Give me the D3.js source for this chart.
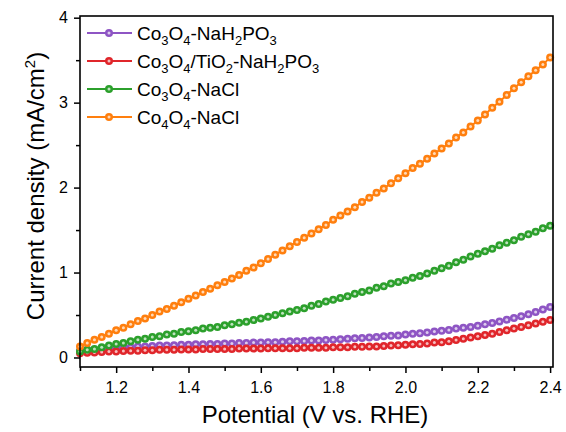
<!DOCTYPE html>
<html>
<head>
<meta charset="utf-8">
<script src="https://cdn.jsdelivr.net/npm/d3@7"></script>
<style>
  html, body { margin: 0; padding: 0; background: #fff; }
  svg { display: block; font-family: "Liberation Sans", Arial, sans-serif; }
</style>
</head>
<body>
<svg id="chart" width="566" height="432"></svg>
<script>
// potential axis: one reading every 0.02 V from 1.10 to 2.40
const potential = d3.range(66).map(i => +(1.1 + i * 0.02).toFixed(2));

const purpleVals = [0.08, 0.09, 0.09, 0.10, 0.11, 0.11, 0.12, 0.12, 0.13, 0.13,
  0.135, 0.14, 0.14, 0.145, 0.15, 0.15, 0.155, 0.155, 0.16, 0.16,
  0.165, 0.165, 0.17, 0.17, 0.175, 0.175, 0.18, 0.18, 0.185, 0.19,
  0.19, 0.195, 0.20, 0.20, 0.205, 0.21, 0.215, 0.22, 0.225, 0.23,
  0.235, 0.24, 0.25, 0.255, 0.26, 0.27, 0.28, 0.285, 0.295, 0.305,
  0.315, 0.325, 0.34, 0.35, 0.36, 0.375, 0.39, 0.405, 0.425, 0.445,
  0.465, 0.485, 0.51, 0.535, 0.565, 0.595];

const redVals = [0.05, 0.055, 0.06, 0.065, 0.07, 0.07, 0.075, 0.08, 0.08, 0.085,
  0.085, 0.09, 0.09, 0.09, 0.095, 0.095, 0.095, 0.10, 0.10, 0.10,
  0.10, 0.10, 0.105, 0.105, 0.105, 0.105, 0.11, 0.11, 0.11, 0.11,
  0.11, 0.115, 0.115, 0.115, 0.115, 0.12, 0.12, 0.12, 0.125, 0.125,
  0.13, 0.13, 0.135, 0.14, 0.145, 0.15, 0.155, 0.16, 0.165, 0.175,
  0.18, 0.19, 0.205, 0.22, 0.235, 0.25, 0.265, 0.28, 0.30, 0.32,
  0.34, 0.36, 0.38, 0.40, 0.42, 0.44];

const greenVals = [0.07, 0.09, 0.10, 0.12, 0.14, 0.16, 0.17, 0.19, 0.21, 0.22,
  0.24, 0.25, 0.27, 0.28, 0.30, 0.31, 0.32, 0.34, 0.35, 0.36,
  0.38, 0.39, 0.41, 0.42, 0.44, 0.46, 0.48, 0.50, 0.52, 0.54,
  0.56, 0.58, 0.61, 0.63, 0.66, 0.68, 0.70, 0.72, 0.75, 0.77,
  0.79, 0.82, 0.84, 0.87, 0.89, 0.91, 0.94, 0.96, 0.99, 1.02,
  1.05, 1.08, 1.12, 1.15, 1.19, 1.22, 1.25, 1.28, 1.32, 1.35,
  1.38, 1.42, 1.45, 1.48, 1.52, 1.55];

const orangeVals = [0.13, 0.17, 0.21, 0.24, 0.28, 0.32, 0.35, 0.39, 0.43, 0.46,
  0.50, 0.54, 0.57, 0.61, 0.65, 0.69, 0.73, 0.77, 0.81, 0.85,
  0.89, 0.93, 0.97, 1.02, 1.06, 1.11, 1.16, 1.21, 1.26, 1.31,
  1.36, 1.41, 1.46, 1.51, 1.56, 1.62, 1.67, 1.72, 1.77, 1.83,
  1.88, 1.94, 1.99, 2.05, 2.11, 2.17, 2.23, 2.28, 2.34, 2.40,
  2.46, 2.52, 2.59, 2.65, 2.72, 2.79, 2.86, 2.94, 3.01, 3.09,
  3.17, 3.24, 3.31, 3.38, 3.45, 3.53];

// legend labels as [text, subscript?] pieces
const seriesNames = [
  [["Co", 0], ["3", 1], ["O", 0], ["4", 1], ["-NaH", 0], ["2", 1], ["PO", 0], ["3", 1]],
  [["Co", 0], ["3", 1], ["O", 0], ["4", 1], ["/TiO", 0], ["2", 1], ["-NaH", 0], ["2", 1], ["PO", 0], ["3", 1]],
  [["Co", 0], ["3", 1], ["O", 0], ["4", 1], ["-NaCl", 0]],
  [["Co", 0], ["4", 1], ["O", 0], ["4", 1], ["-NaCl", 0]]
];
const seriesColors = ["#8e55c4", "#e0262b", "#2ca02c", "#ff7f0e"];
const seriesVals = [purpleVals, redVals, greenVals, orangeVals];

const xTicks = [1.1, 1.2, 1.3, 1.4, 1.5, 1.6, 1.7, 1.8, 1.9, 2.0, 2.1, 2.2, 2.3, 2.4];
const xLabels = [1.2, 1.4, 1.6, 1.8, 2.0, 2.2, 2.4];
const yTicks = [0, 0.5, 1, 1.5, 2, 2.5, 3, 3.5, 4];
const yLabels = [0, 1, 2, 3, 4];

const svg = d3.select("#chart");
const mLeft = 80, mRight = 553, mTop = 16, mBottom = 367;

const x = d3.scaleLinear().domain([1.1, 2.408]).range([mLeft, mRight]);
const y = d3.scaleLinear().domain([-0.112, 4.02]).range([mBottom, mTop]);

// data
const plot = svg.append("g");
const line = d3.line().x((d, i) => x(potential[i])).y(d => y(d));

seriesVals.forEach(function(vals, s) {
  const g = plot.append("g");
  g.append("path")
    .datum(vals)
    .attr("d", line)
    .attr("fill", "none")
    .attr("stroke", seriesColors[s])
    .attr("stroke-width", 2);
  g.selectAll("circle.m").data(vals).enter().append("circle")
    .attr("class", "m")
    .attr("cx", (d, i) => x(potential[i]))
    .attr("cy", d => y(d))
    .attr("r", 4)
    .attr("fill", seriesColors[s]);
  g.selectAll("circle.h").data(vals).enter().append("circle")
    .attr("class", "h")
    .attr("cx", (d, i) => x(potential[i]))
    .attr("cy", d => y(d))
    .attr("r", 1.5)
    .attr("fill", "#fff")
    .attr("fill-opacity", 0.7);
});

// axes
const isLabel = (arr, d) => arr.some(v => Math.abs(v - d) < 1e-9);
const xAxis = d3.axisBottom(x).tickValues(xTicks)
  .tickSize(4).tickPadding(11)
  .tickFormat(d => isLabel(xLabels, d) ? d3.format(".1f")(d) : "");
const gx = svg.append("g").attr("transform", `translate(0,${mBottom})`).call(xAxis);
gx.selectAll(".tick line").attr("y2", d => isLabel(xLabels, d) ? 6 : 4);

const yAxis = d3.axisLeft(y).tickValues(yTicks)
  .tickSize(4).tickPadding(8)
  .tickFormat(d => isLabel(yLabels, d) ? d : "");
const gy = svg.append("g").attr("transform", `translate(${mLeft},0)`).call(yAxis);
gy.selectAll(".tick line").attr("x2", d => isLabel(yLabels, d) ? -6 : -4);

[gx, gy].forEach(function(g) {
  g.select(".domain").remove();
  g.selectAll(".tick line").attr("stroke", "#000").attr("stroke-width", 1.5);
  g.selectAll(".tick text").attr("fill", "#000").style("font-size", "16px")
    .style("font-family", "'Liberation Sans', Arial, sans-serif");
});

svg.append("rect")
  .attr("x", mLeft).attr("y", mTop)
  .attr("width", mRight - mLeft).attr("height", mBottom - mTop)
  .attr("fill", "none").attr("stroke", "#000").attr("stroke-width", 1.6);

// axis titles
svg.append("text")
  .attr("x", 315).attr("y", 423)
  .attr("text-anchor", "middle")
  .style("font-size", "24px")
  .text("Potential (V vs. RHE)");

const yt = svg.append("text")
  .attr("transform", "translate(44,186) rotate(-90)")
  .attr("text-anchor", "middle")
  .style("font-size", "24px");
yt.append("tspan").text("Current density (mA/cm");
yt.append("tspan").attr("dy", -9).style("font-size", "15px").text("2");
yt.append("tspan").attr("dy", 9).text(")");

// legend
const legend = svg.append("g");
seriesNames.forEach(function(parts, s) {
  const ly = 33 + s * 28;
  legend.append("line")
    .attr("x1", 87).attr("x2", 132).attr("y1", ly).attr("y2", ly)
    .attr("stroke", seriesColors[s]).attr("stroke-width", 2);
  legend.append("circle").attr("cx", 109).attr("cy", ly).attr("r", 4)
    .attr("fill", seriesColors[s]);
  legend.append("circle").attr("cx", 109).attr("cy", ly).attr("r", 1.5)
    .attr("fill", "#fff").attr("fill-opacity", 0.7);
  const t = legend.append("text").attr("x", 137).attr("y", ly + 7)
    .style("font-size", "19px");
  let sub = 0;
  parts.forEach(function(p) {
    const dy = p[1] ? (sub ? 0 : 5) : (sub ? -5 : 0);
    sub = p[1];
    t.append("tspan").attr("dy", dy)
      .style("font-size", p[1] ? "13px" : "19px")
      .text(p[0]);
  });
});
</script>
</body>
</html>
